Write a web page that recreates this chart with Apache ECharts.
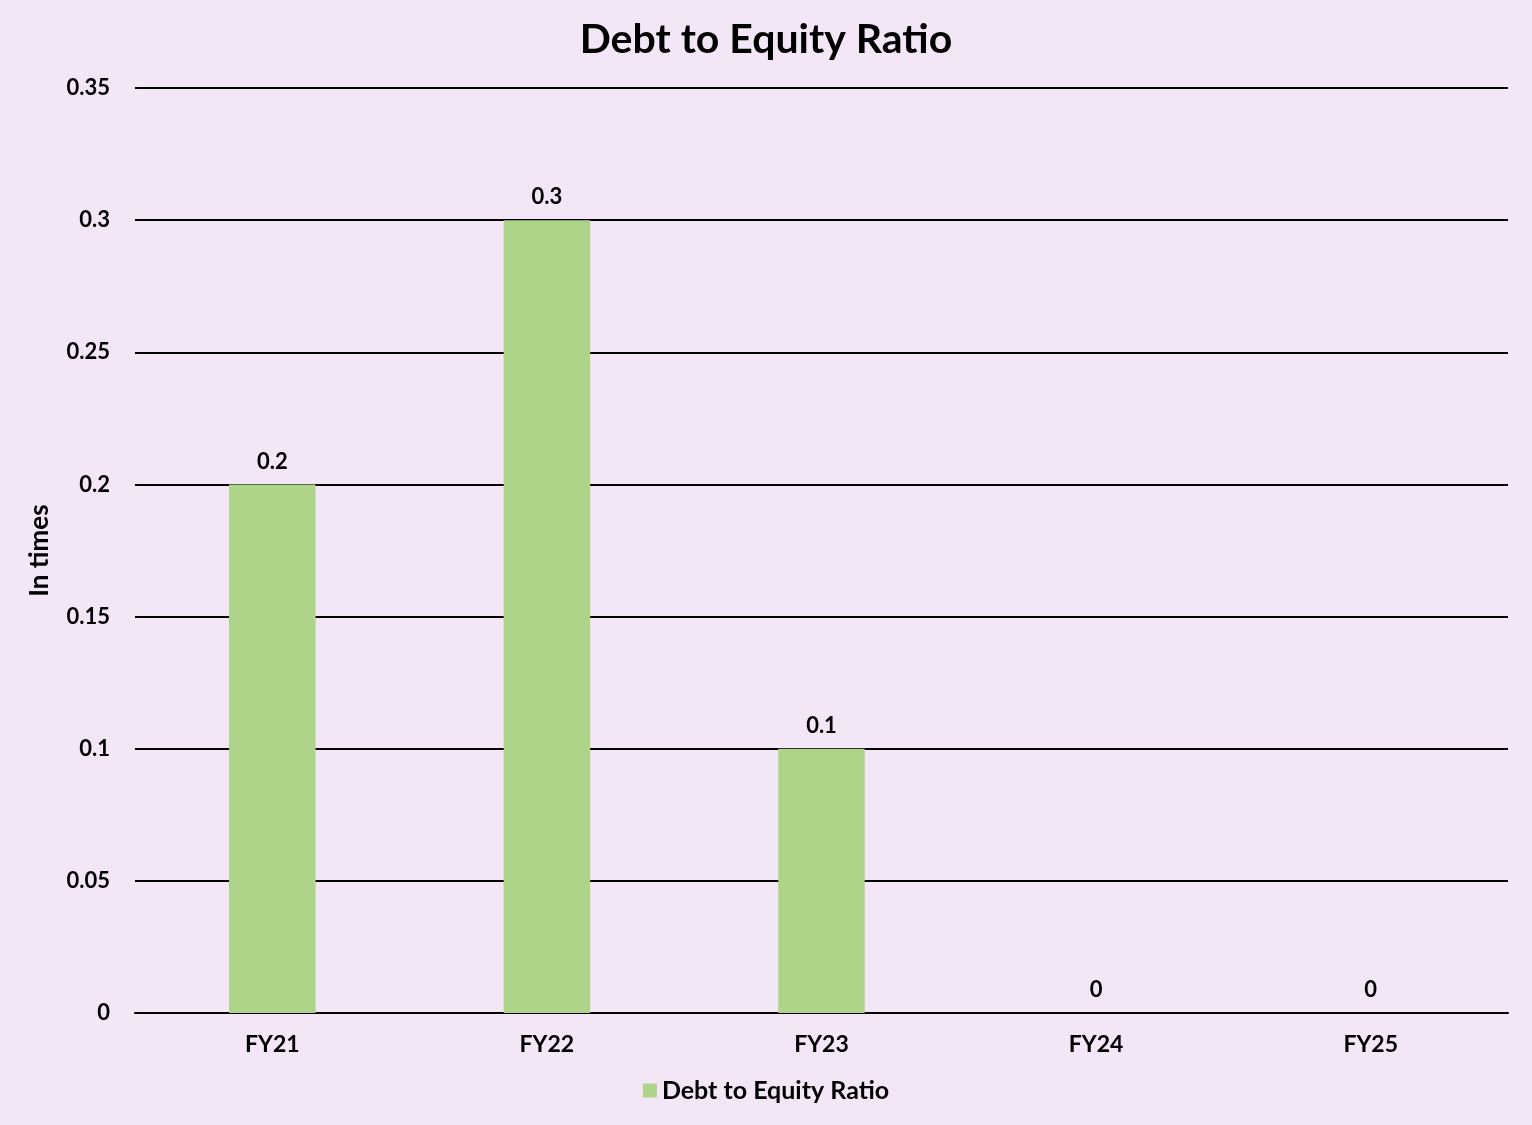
<!DOCTYPE html>
<html>
<head>
<meta charset="utf-8">
<script src="https://cdn.jsdelivr.net/npm/echarts@6/dist/echarts.min.js"></script>
<style>
html,body{margin:0;padding:0;background:#F2E6F7;}
#chart{width:1532px;height:1125px;}
</style>
</head>
<body>
<div id="chart"></div>
<script>
const categories = ['FY21', 'FY22', 'FY23', 'FY24', 'FY25'];
const debtToEquity = [0.2, 0.3, 0.1, 0, 0];
const seriesName = 'Debt to Equity Ratio';

const FONT = 'Lato, "Open Sans", sans-serif';
const chart = echarts.init(document.getElementById('chart'));
chart.setOption({
  backgroundColor: '#F2E6F7',
  textStyle: { fontFamily: FONT },
  title: {
    text: 'Debt to Equity Ratio',
    left: 'center',
    top: 14,
    textStyle: { fontSize: 41, fontWeight: 'bold', color: '#000', fontFamily: FONT }
  },
  legend: {
    bottom: 17,
    left: 'center',
    itemWidth: 14,
    itemHeight: 14,
    icon: 'rect',
    itemGap: 6,
    textStyle: { fontSize: 25, fontWeight: 'bold', color: '#000', fontFamily: FONT },
    data: [seriesName]
  },
  grid: { left: 135, right: 24, top: 88, bottom: 112, containLabel: false },
  xAxis: {
    type: 'category',
    data: categories,
    axisTick: { show: false },
    axisLine: { show: true, lineStyle: { color: '#000', width: 2 } },
    axisLabel: { fontSize: 23, fontWeight: 'bold', color: '#000', margin: 20, fontFamily: FONT }
  },
  yAxis: {
    type: 'value',
    min: 0,
    max: 0.35,
    interval: 0.05,
    name: 'In times',
    nameLocation: 'middle',
    nameGap: 82,
    nameRotate: 90,
    nameTextStyle: { fontSize: 26, fontWeight: 'bold', color: '#000', fontFamily: FONT },
    axisLine: { show: false },
    axisTick: { show: false },
    axisLabel: {
      fontSize: 22, fontWeight: 'bold', color: '#000', margin: 25, fontFamily: FONT,
      formatter: v => String(parseFloat(v.toFixed(2)))
    },
    splitLine: { lineStyle: { color: '#000', width: 2 } }
  },
  series: [{
    name: seriesName,
    type: 'bar',
    data: debtToEquity,
    barWidth: '31.5%',
    itemStyle: { color: '#AED48A' },
    label: {
      show: true,
      position: 'top',
      distance: 12,
      fontSize: 22,
      fontWeight: 'bold',
      color: '#000',
      fontFamily: FONT
    }
  }]
});
</script>
</body>
</html>
